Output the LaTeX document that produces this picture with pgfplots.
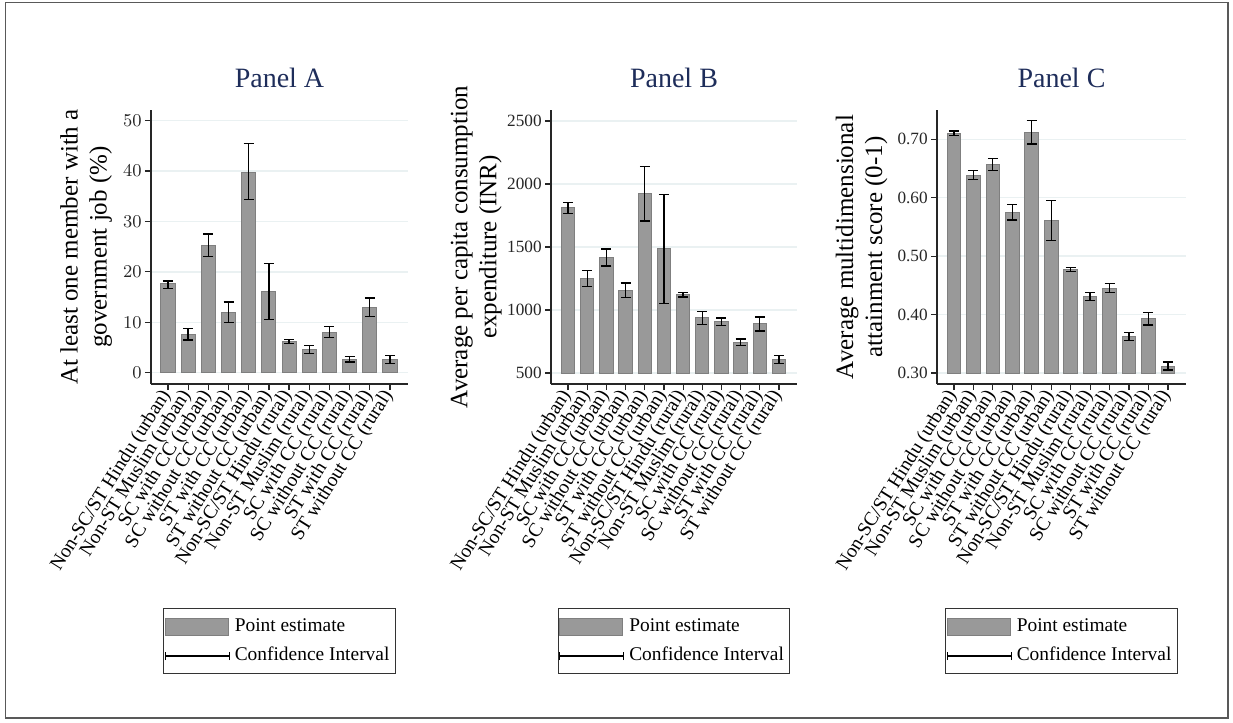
\documentclass[border=0pt]{standalone}
\usepackage{fontspec}
\setmainfont{Liberation Serif}
\usepackage{pgfplots}
\pgfplotsset{compat=1.18}
\usepackage{pgfplotstable}

\definecolor{barfill}{HTML}{999999}
\definecolor{baredge}{HTML}{7F7F7F}
\definecolor{gridc}{HTML}{EAF1F2}
\definecolor{titlec}{HTML}{1E2D5A}

\pgfplotstableread{
x v lo hi
0 17.6 16.7 18.2
1 7.6 6.5 8.8
2 25.3 23.0 27.5
3 12.0 9.9 14.0
4 39.7 34.4 45.4
5 16.1 10.6 21.6
6 6.2 5.8 6.6
7 4.6 3.8 5.4
8 8.0 7.0 9.1
9 2.7 2.1 3.2
10 13.0 11.2 14.8
11 2.6 1.8 3.4
}\tA
\pgfplotstableread{
x v lo hi
0 1812 1765 1854
1 1249 1188 1312
2 1418 1349 1484
3 1153 1098 1214
4 1923 1706 2140
5 1487 1053 1915
6 1122 1103 1138
7 939 886 987
8 910 878 937
9 741 717 770
10 892 833 944
11 608 577 638
}\tB
\pgfplotstableread{
x v lo hi
0 0.710 0.706 0.714
1 0.638 0.631 0.646
2 0.657 0.647 0.667
3 0.575 0.562 0.588
4 0.712 0.692 0.732
5 0.561 0.527 0.595
6 0.477 0.474 0.481
7 0.431 0.424 0.438
8 0.445 0.438 0.453
9 0.362 0.356 0.369
10 0.393 0.382 0.404
11 0.312 0.305 0.319
}\tC

\pgfplotsset{
 panel/.style={
  scale only axis, height=137pt,
  axis x line*=bottom, axis y line*=left,
  axis line style={black!85, line width=0.65pt},
  ymajorgrids, grid style={gridc, line width=0.65pt},
  tick align=outside, major tick length=3pt,
  tick style={black!85, line width=0.6pt},
  xtick={0,...,11},
  xticklabels={Non-SC/ST Hindu (urban), Non-ST Muslim (urban), SC with CC (urban), SC without CC (urban), ST with CC (urban), ST without CC (urban), Non-SC/ST Hindu (rural), Non-ST Muslim (rural), SC with CC (rural), SC without CC (rural), ST with CC (rural), ST without CC (rural)},
  x tick label style={rotate=58, anchor=east, inner sep=1pt, font=\fontsize{9.8pt}{11pt}\selectfont},
  y tick label style={inner sep=1.5pt, font=\fontsize{8.6pt}{10pt}\selectfont, black!85},
  ylabel style={font=\fontsize{12.5pt}{14.5pt}\selectfont, align=center, inner sep=0pt, anchor=south},
  title style={font=\fontsize{14pt}{16pt}\selectfont, color=titlec, anchor=base, at={(0.5,1)}, yshift=5.5pt},
  legend style={at={(0.5,-0.8175)}, anchor=north, draw=black!80, line width=0.5pt,
    font=\fontsize{9.7pt}{11pt}\selectfont, inner xsep=0.5pt, inner ysep=4.5pt, row sep=6pt,
    nodes={inner xsep=2.5pt, inner ysep=0pt, text height=6.5pt, text depth=2pt}},
  legend cell align=left,
  clip=false,
 },
 bars/.style={ybar, bar width=0.7, fill=barfill, draw=baredge, line width=0.5pt,
  legend image code/.code={\draw[fill=barfill, draw=baredge, line width=0.5pt] (0pt,-4.25pt) rectangle (31.5pt,4.25pt);}},
 cis/.style={forget plot, draw=none, mark=none,
  error bars/y dir=both, error bars/y explicit, error bars/error mark=-,
  error bars/error bar style={draw=black, line width=0.65pt, solid},
  error bars/error mark options={rotate=90, draw=black, line width=0.65pt, mark size=2.5pt, solid}},
 cilegend/.style={legend image code/.code={
  \draw[black, line width=0.6pt] (0pt,0pt) -- (32pt,0pt);
  \draw[black, line width=0.6pt] (0pt,-2pt) -- (0pt,2pt) (32pt,-2pt) -- (32pt,2pt);}},
}

\begin{document}
\begin{tikzpicture}
\useasboundingbox (0,0) rectangle (616.5pt,-361.5pt);
\draw[black!65, line width=0.6pt] (2.75pt,-1.25pt) rectangle (614pt,-359pt);

% Panel A
\begin{axis}[panel, at={(75.5pt,-192pt)}, anchor=south west, width=128.5pt,
  xmin=-0.84, xmax=11.89, ymin=-2.24, ymax=52.1,
  ytick={0,10,20,30,40,50},
  title={Panel A},
  ylabel={At least one member with a\\government job (\%)},
  ylabel style={at={(axis description cs:-0.15,0.5)}}]
\addplot[bars] table[x=x, y=v] \tA;
\addlegendentry{Point estimate}
\addplot[cis] table[x=x, y=v, y error plus expr=\thisrow{hi}-\thisrow{v}, y error minus expr=\thisrow{v}-\thisrow{lo}] \tA;
\addlegendimage{cilegend}
\addlegendentry{Confidence Interval}
\end{axis}

% Panel B
\begin{axis}[panel, at={(275.5pt,-192pt)}, anchor=south west, width=123pt,
  xmin=-0.89, xmax=11.94, ymin=-87, ymax=2087,
  ytick={0,500,1000,1500,2000}, yticklabels={500,1000,1500,2000,2500},
  title={Panel B},
  ylabel={Average per capita consumption\\expenditure (INR)},
  ylabel style={at={(axis description cs:-0.199,0.5)}}]
\addplot[y filter/.expression={y-500}, bars] table[x=x, y=v] \tB;
\addlegendentry{Point estimate}
\addplot[y filter/.expression={y-500}, cis] table[x=x, y=v, y error plus expr=\thisrow{hi}-\thisrow{v}, y error minus expr=\thisrow{v}-\thisrow{lo}] \tB;
\addlegendimage{cilegend}
\addlegendentry{Confidence Interval}
\end{axis}

% Panel C
\begin{axis}[panel, at={(468.5pt,-192pt)}, anchor=south west, width=124.5pt,
  xmin=-0.87, xmax=11.93, ymin=-0.0188, ymax=0.45,
  ytick={0,0.1,0.2,0.3,0.4}, yticklabels={0.30,0.40,0.50,0.60,0.70},
  title={Panel C},
  ylabel={Average multidimensional\\attainment score (0-1)},
  ylabel style={at={(axis description cs:-0.197,0.5)}}]
\addplot[y filter/.expression={y-0.3}, bars] table[x=x, y=v] \tC;
\addlegendentry{Point estimate}
\addplot[y filter/.expression={y-0.3}, cis] table[x=x, y=v, y error plus expr=\thisrow{hi}-\thisrow{v}, y error minus expr=\thisrow{v}-\thisrow{lo}] \tC;
\addlegendimage{cilegend}
\addlegendentry{Confidence Interval}
\end{axis}
\end{tikzpicture}
\end{document}
